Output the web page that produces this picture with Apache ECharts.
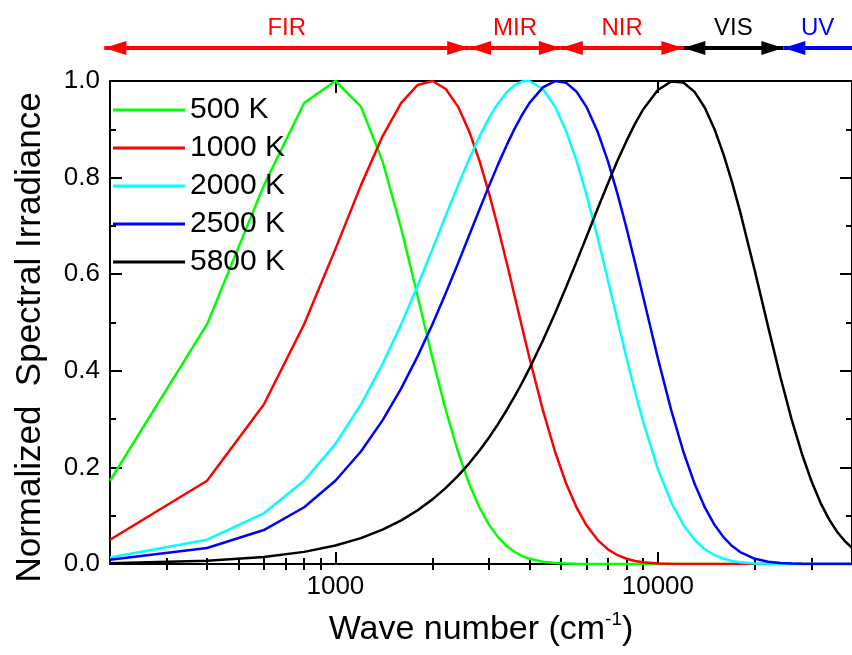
<!DOCTYPE html>
<html>
<head>
<meta charset="utf-8">
<script src="https://cdn.jsdelivr.net/npm/echarts@6/dist/echarts.min.js"></script>
<style>
  html, body { margin: 0; padding: 0; background: #fff; }
  #chart { width: 852px; height: 655px; }
</style>
</head>
<body>
<div id="chart"></div>
<script>
// wave number samples (cm-1)
const wavenumber = [200, 400, 600, 800, 1000, 1200, 1400, 1600, 1800, 2000,
  2200, 2400, 2600, 2800, 3000, 3200, 3400, 3600, 3800, 4000,
  4400, 4800, 5200, 5600, 6000, 6500, 7000, 7500, 8000, 8500, 9000,
  10000, 11000, 12000, 13000, 14000, 15000, 16000, 17000, 18000,
  20000, 22000, 24000, 26000, 28000, 30000, 32000, 34000, 36000, 38000, 40000];

// normalized spectral irradiance
const t500 = [0.1724, 0.4965, 0.7839, 0.9546, 1.000, 0.9470, 0.8341, 0.6946, 0.5539, 0.4261,
  0.3186, 0.2324, 0.1660, 0.1166, 0.0807, 0.0551, 0.0371, 0.0248, 0.0164, 0.0108,
  0.0045, 0.0019, 0.0008, 0.0003, 0.0001, 0, 0, 0, 0, 0, 0,
  0, 0, 0, 0, 0, 0, 0, 0, 0,
  0, 0, 0, 0, 0, 0, 0, 0, 0, 0, 0];
const t1000 = [0.0503, 0.1724, 0.3303, 0.4965, 0.6519, 0.7839, 0.8855, 0.9546, 0.9918, 1.000,
  0.9834, 0.9470, 0.8956, 0.8341, 0.7657, 0.6946, 0.6232, 0.5539, 0.4877, 0.4261,
  0.3186, 0.2324, 0.1660, 0.1166, 0.0807, 0.0500, 0.0304, 0.0182, 0.0108, 0.0063, 0.0036,
  0.0012, 0.0004, 0.0001, 0, 0, 0, 0, 0, 0,
  0, 0, 0, 0, 0, 0, 0, 0, 0, 0, 0];
const t2000 = [0.0136, 0.0503, 0.1049, 0.1724, 0.2488, 0.3303, 0.4138, 0.4965, 0.5765, 0.6519,
  0.7214, 0.7839, 0.8387, 0.8855, 0.9242, 0.9546, 0.9769, 0.9918, 0.9991, 1.000,
  0.9834, 0.9470, 0.8956, 0.8341, 0.7657, 0.6767, 0.5881, 0.5039, 0.4261, 0.3564, 0.2951,
  0.1970, 0.1277, 0.0807, 0.0500, 0.0304, 0.0182, 0.0108, 0.0063, 0.0036,
  0.0012, 0.0004, 0.0001, 0, 0, 0, 0, 0, 0, 0, 0];
const t2500 = [0.0088, 0.0332, 0.0703, 0.1175, 0.1724, 0.2330, 0.2973, 0.3636, 0.4304, 0.4965,
  0.5609, 0.6224, 0.6805, 0.7345, 0.7839, 0.8284, 0.8677, 0.9019, 0.9309, 0.9546,
  0.9868, 0.9999, 0.9961, 0.9776, 0.9470, 0.8956, 0.8341, 0.7657, 0.6946, 0.6232, 0.5539,
  0.4261, 0.3186, 0.2324, 0.1660, 0.1166, 0.0807, 0.0551, 0.0371, 0.0248,
  0.0108, 0.0045, 0.0019, 0.0008, 0.0003, 0.0001, 0, 0, 0, 0, 0];
const t5800 = [0.0017, 0.0066, 0.0145, 0.0251, 0.0382, 0.0535, 0.0710, 0.0903, 0.1113, 0.1338,
  0.1576, 0.1825, 0.2084, 0.2352, 0.2626, 0.2905, 0.3189, 0.3475, 0.3763, 0.4051,
  0.4626, 0.5190, 0.5739, 0.6265, 0.6766, 0.7349, 0.7879, 0.8352, 0.8765, 0.9118, 0.9410,
  0.9813, 0.9991, 0.9968, 0.9774, 0.9440, 0.8996, 0.8472, 0.7897, 0.7290,
  0.6062, 0.4899, 0.3866, 0.2990, 0.2273, 0.1701, 0.1256, 0.0918, 0.0663, 0.0475, 0.0337];

const seriesNames = ["500 K", "1000 K", "2000 K", "2500 K", "5800 K"];
const seriesValues = [t500, t1000, t2000, t2500, t5800];
const seriesColors = ["#00ff00", "#ff0000", "#00ffff", "#0000ff", "#000000"];

const majorX = [1000, 10000];
const minorX = [300, 400, 500, 600, 700, 800, 900,
  2000, 3000, 4000, 5000, 6000, 7000, 8000, 9000, 20000, 30000];

// spectral bands along the top
const bandNames = ["FIR", "MIR", "NIR", "VIS", "UV"];
const bandEdges = [192, 2600, 5000, 12000, 24500, 40000];
const bandColors = ["#ff0000", "#ff0000", "#ff0000", "#000000", "#0000ff"];

const chart = echarts.init(document.getElementById("chart"));
const FONT = "Liberation Sans, Arial, sans-serif";
const X_MIN = 200;
const X_MAX = 40000;
const BAND_Y = 0.3;
const HEAD_W = 14;
const HEAD_L = 22;

const logAxis = (opts) => Object.assign({
  type: "log",
  logBase: 10,
  min: X_MIN,
  max: X_MAX,
  gridIndex: 0,
  splitLine: { show: false },
  axisLine: { show: false },
  axisLabel: { show: false },
}, opts);

const tickX = (vals, len) => ({
  show: true, inside: true, length: len, customValues: vals,
  lineStyle: { color: "#000", width: 2 },
});

const curveSeries = seriesNames.map((name, i) => ({
  name: name,
  type: "line",
  xAxisIndex: 0,
  yAxisIndex: 0,
  symbol: "none",
  showSymbol: false,
  lineStyle: { width: 2.5, color: seriesColors[i] },
  itemStyle: { color: seriesColors[i] },
  emphasis: { disabled: true },
  data: wavenumber.map((x, j) => [x, seriesValues[i][j]]),
}));

// band shafts with their labels
const bandLines = bandNames.map((name, i) => ({
  type: "lines",
  coordinateSystem: "cartesian2d",
  xAxisIndex: 4,
  yAxisIndex: 2,
  clip: false,
  silent: true,
  symbol: ["none", "none"],
  lineStyle: { color: bandColors[i], width: 4, opacity: 1, curveness: 0 },
  label: {
    show: true,
    position: "middle",
    distance: 8,
    formatter: name,
    color: bandColors[i],
    fontSize: 24,
    fontFamily: FONT,
  },
  data: [{ name: name, coords: [[bandEdges[i], BAND_Y], [bandEdges[i + 1], BAND_Y]] }],
}));

// arrow heads, tip sitting on the band edge
const bandHeads = bandNames.map((name, i) => {
  const items = [{ value: [bandEdges[i], BAND_Y], symbolRotate: 90, symbolOffset: [HEAD_L / 2, 0] }];
  if (i < bandNames.length - 1) {
    items.push({ value: [bandEdges[i + 1], BAND_Y], symbolRotate: -90, symbolOffset: [-HEAD_L / 2, 0] });
  }
  return {
    type: "scatter",
    xAxisIndex: 4,
    yAxisIndex: 2,
    clip: false,
    silent: true,
    symbol: "triangle",
    symbolSize: [HEAD_W, HEAD_L],
    itemStyle: { color: bandColors[i], opacity: 1 },
    data: items,
  };
});

chart.setOption({
  animation: false,
  backgroundColor: "#fff",
  textStyle: { fontFamily: FONT, color: "#000" },
  grid: [
    { left: 110, right: -4, top: 81, bottom: 86 },
    { left: 110, right: -4, top: 20, height: 40 },
  ],
  legend: {
    data: seriesNames,
    orient: "vertical",
    left: 113,
    top: 95,
    padding: 0,
    icon: "rect",
    itemWidth: 72,
    itemHeight: 3,
    itemGap: 8,
    textStyle: { fontSize: 30, color: "#000", fontFamily: FONT, lineHeight: 30 },
  },
  xAxis: [
    logAxis({
      position: "bottom",
      axisLine: { show: true, onZero: false, lineStyle: { color: "#000", width: 2 } },
      axisTick: tickX(majorX, 12),
      axisLabel: {
        show: true, customValues: majorX, fontSize: 26, color: "#000", margin: 10,
        formatter: (v) => String(v),
      },
      name: "Wave number (cm{sup|-1})",
      nameLocation: "middle",
      nameGap: 46,
      nameTextStyle: {
        fontSize: 34, color: "#000", lineHeight: 40,
        rich: { sup: { fontSize: 19, lineHeight: 26, verticalAlign: "top", color: "#000" } },
      },
    }),
    logAxis({ position: "bottom", axisTick: tickX(minorX, 6) }),
    logAxis({
      position: "top",
      axisLine: { show: true, onZero: false, lineStyle: { color: "#000", width: 2 } },
      axisTick: tickX(majorX, 12),
    }),
    logAxis({ position: "top", axisTick: tickX(minorX, 6) }),
    logAxis({ gridIndex: 1, show: false }),
  ],
  yAxis: [
    {
      type: "value",
      gridIndex: 0,
      position: "left",
      min: 0,
      max: 1,
      interval: 0.2,
      splitLine: { show: false },
      axisLine: { show: true, lineStyle: { color: "#000", width: 2 } },
      axisTick: { show: true, inside: true, length: 12, lineStyle: { color: "#000", width: 2 } },
      minorTick: { show: true, splitNumber: 2, length: 6, lineStyle: { color: "#000", width: 2 } },
      axisLabel: { fontSize: 26, color: "#000", margin: 10, formatter: (v) => v.toFixed(1) },
      name: "Normalized  Spectral Irradiance",
      nameLocation: "middle",
      nameGap: 62,
      nameTextStyle: { fontSize: 35, color: "#000", padding: [0, 30, 0, 0] },
    },
    {
      type: "value",
      gridIndex: 0,
      position: "right",
      min: 0,
      max: 1,
      interval: 0.2,
      splitLine: { show: false },
      axisLine: { show: true, lineStyle: { color: "#000", width: 2 } },
      axisTick: { show: true, inside: true, length: 12, lineStyle: { color: "#000", width: 2 } },
      minorTick: { show: true, splitNumber: 2, length: 6, lineStyle: { color: "#000", width: 2 } },
      axisLabel: { show: false },
    },
    { type: "value", gridIndex: 1, min: 0, max: 1, show: false },
  ],
  series: curveSeries.concat(bandLines, bandHeads),
});
</script>
</body>
</html>
